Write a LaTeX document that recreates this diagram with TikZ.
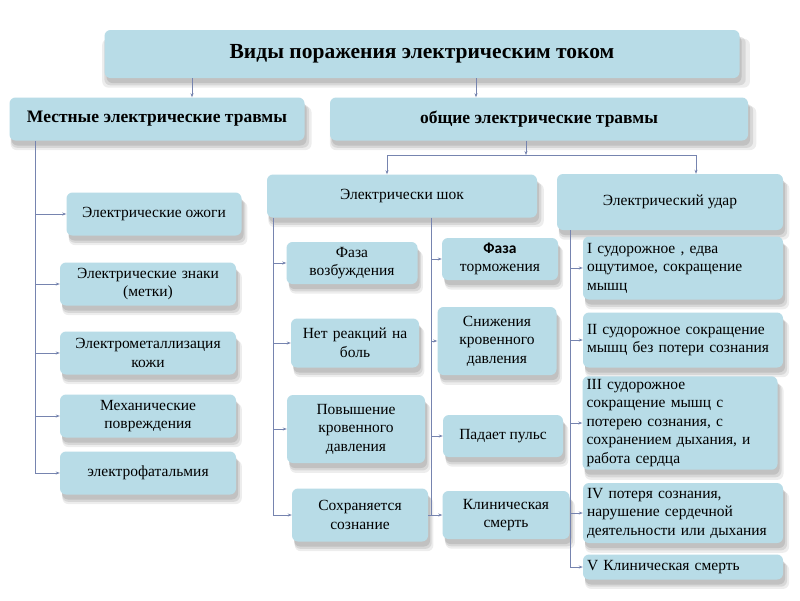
\documentclass[tikz,border=0pt]{standalone}
\usepackage{fontspec}
\setmainfont{Liberation Serif}
\newfontfamily\sansf{Carlito}
\usepackage{xcolor}
\usetikzlibrary{arrows.meta, shadows}
\definecolor{boxcol}{RGB}{184,220,231}
\definecolor{linecol}{RGB}{118,132,175}

\tikzset{
    softshadow/.style={
        drop shadow={shadow xshift=2pt, shadow yshift=-5pt, opacity=0.10, fill=black},
        drop shadow={shadow xshift=3pt, shadow yshift=-7pt, shadow scale=1.01, opacity=0.09, fill=black},
        drop shadow={shadow xshift=4pt, shadow yshift=-9pt, shadow scale=1.02, opacity=0.07, fill=black}},
    box/.style={rectangle, rounded corners=6pt, fill=boxcol, align=center, inner sep=3pt,
        softshadow, font=\fontsize{15.5}{18.5}\selectfont},
    head/.style={box, font=\fontsize{17.5}{20}\bfseries\selectfont},
    leftbox/.style={box, align=left},
    bus/.style={draw=linecol, line width=0.8pt},
    arr/.style={draw=linecol, line width=0.8pt, -{Stealth[length=4pt, width=3pt]}}
}

\begin{document}
\begin{tikzpicture}[x=1pt, y=-1pt]
    \useasboundingbox (0,0) rectangle (800,600);
    \fill[white] (0,0) rectangle (800,600);

    % top levels
    \node[head, minimum width=635pt, minimum height=48pt, font=\fontsize{21.5}{24}\bfseries\selectfont] (title) at (422,54) {Виды поражения электрическим током};
    \node[head, minimum width=295pt, minimum height=43pt] (mest) at (157,119) {Местные электрические травмы};
    \node[head, minimum width=418pt, minimum height=43pt] (obsh) at (539,119) {общие электрические травмы};
    \node[box, minimum width=270pt, minimum height=43pt] (shok) at (402,196) {Электрически шок};
    \node[box, minimum width=226pt, minimum height=56pt] (udar) at (670,202) {Электрический удар};

    % local injuries
    \node[box, minimum width=175pt, minimum height=43pt] (ozhogi) at (154,214) {Электрические ожоги};
    \node[box, minimum width=176pt, minimum height=43pt, text width=170pt] (znaki) at (148,284) {Электрические знаки\\(метки)};
    \node[box, minimum width=176pt, minimum height=43pt, text width=170pt] (metall) at (148,353) {Электрометаллизация\\кожи};
    \node[box, minimum width=176pt, minimum height=43pt, text width=170pt] (mekh) at (148,416) {Механические\\повреждения};
    \node[box, minimum width=176pt, minimum height=43pt] (oftal) at (148,473) {электрофатальмия};

    % shock
    \node[box, minimum width=131pt, minimum height=42pt, text width=125pt] (vozb) at (352,263) {Фаза\\возбуждения};
    \node[box, minimum width=126pt, minimum height=49pt, text width=122pt] (netr) at (355,343) {Нет реакций на\\боль};
    \node[box, minimum width=138pt, minimum height=68pt, text width=130pt] (povysh) at (356,429) {Повышение\\кровенного\\давления};
    \node[box, minimum width=136pt, minimum height=53pt, text width=130pt] (sokhr) at (360,515) {Сохраняется\\сознание};
    \node[box, minimum width=114pt, minimum height=42pt, text width=110pt] (torm) at (500,259) {{\sansf\bfseries Фаза}\\торможения};
    \node[box, minimum width=119pt, minimum height=68pt, text width=113pt] (snizh) at (497,341) {Снижения\\кровенного\\давления};
    \node[box, minimum width=120pt, minimum height=42pt] (puls) at (503,436) {Падает пульс};
    \node[box, minimum width=127pt, minimum height=48pt, text width=121pt] (klin) at (506,515) {Клиническая\\смерть};

    % electric stroke degrees
    \node[leftbox, minimum width=200pt, minimum height=63pt, text width=192pt] (st1) at (683,268) {I судорожное , едва\\ощутимое, сокращение\\мышц};
    \node[leftbox, minimum width=200pt, minimum height=55pt, text width=192pt] (st2) at (683,340) {II судорожное сокращение\\мышц без потери сознания};
    \node[leftbox, minimum width=195pt, minimum height=93pt, text width=187pt] (st3) at (680,423) {III судорожное\\сокращение мышц с\\потерею сознания, с\\сохранением дыхания, и\\работа сердца};
    \node[leftbox, minimum width=200pt, minimum height=60pt, text width=192pt] (st4) at (683,513) {IV потеря сознания,\\нарушение сердечной\\деятельности или дыхания};
    \node[leftbox, minimum width=200pt, minimum height=25pt, text width=192pt] (st5) at (683,567) {V Клиническая смерть};

    % connectors
    \coordinate (ta) at (192,0);
    \coordinate (tb) at (476,0);
    \draw[arr] (title.south -| ta) -- (mest.north -| ta);
    \draw[arr] (title.south -| tb) -- (obsh.north -| tb);

    \coordinate (hm) at (526,155);
    \coordinate (hl) at (387,155);
    \coordinate (hr) at (696,155);
    \draw[arr] (obsh.south -| hm) -- (hm);
    \draw[bus] (hl) -- (hr);
    \draw[arr] (hl) -- (shok.north -| hl);
    \draw[arr] (hr) -- (udar.north -| hr);

    \coordinate (lb) at (35,0);
    \draw[bus] (mest.south -| lb) -- (oftal.west -| lb);
    \foreach \n in {ozhogi, znaki, metall, mekh, oftal}
        \draw[arr] (\n.west -| lb) -- (\n.west);

    \coordinate (mb) at (273,0);
    \draw[bus] (shok.south -| mb) -- (sokhr.west -| mb);
    \foreach \n in {vozb, netr, povysh, sokhr}
        \draw[arr] (\n.west -| mb) -- (\n.west);

    \coordinate (nb) at (431,0);
    \draw[bus] (shok.south -| nb) -- (klin.west -| nb);
    \foreach \n in {torm, snizh, puls}
        \draw[arr] (\n.west -| nb) -- (\n.west);
    \draw[arr] (sokhr.east) -- (klin.west);

    \coordinate (rb) at (570,0);
    \draw[bus] (udar.south -| rb) -- (st5.west -| rb);
    \foreach \n in {st1, st2, st3, st4, st5}
        \draw[arr] (\n.west -| rb) -- (\n.west);
\end{tikzpicture}
\end{document}
